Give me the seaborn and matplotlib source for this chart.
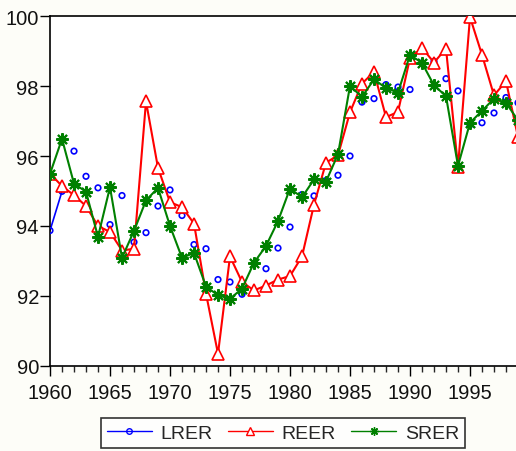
import numpy as np
import pandas as pd
import seaborn as sns
import matplotlib.pyplot as plt
import matplotlib.lines as mlines
from matplotlib.ticker import MultipleLocator

years = list(range(1960, 2000))

lrer = [93.87, 94.99, 96.14, 95.42, 95.09, 94.04, 94.87, 93.54, 93.81, 94.57,
        95.03, 94.30, 93.47, 93.35, 92.47, 92.40, 92.05, 92.13, 92.78, 93.37,
        93.97, 94.90, 94.86, 95.30, 95.45, 96.00, 97.54, 97.64, 98.04, 97.97,
        97.90, 98.66, 98.70, 98.21, 97.86, 96.89, 96.95, 97.23, 97.67, 97.52]

reer = [95.50, 95.14, 94.88, 94.57, 94.00, 93.83, 93.30, 93.35, 97.56, 95.66,
        94.68, 94.54, 94.07, 92.07, 90.35, 93.13, 92.40, 92.16, 92.30, 92.47,
        92.57, 93.13, 94.61, 95.81, 96.02, 97.25, 98.07, 98.40, 97.11, 97.26,
        98.80, 99.09, 98.67, 99.07, 95.69, 99.97, 98.89, 97.73, 98.14, 96.54]

srer = [95.49, 96.49, 95.21, 94.98, 93.69, 95.11, 93.09, 93.86, 94.73, 95.09,
        94.00, 93.09, 93.23, 92.27, 92.02, 91.92, 92.21, 92.95, 93.43, 94.14,
        95.07, 94.82, 95.33, 95.27, 96.05, 98.00, 97.69, 98.19, 97.94, 97.81,
        98.89, 98.66, 98.02, 97.71, 95.72, 96.95, 97.29, 97.64, 97.52, 97.02]

series_names = ['LRER', 'REER', 'SRER']
yticks = [90, 92, 94, 96, 98, 100]
xticks = [1960, 1965, 1970, 1975, 1980, 1985, 1990, 1995]

df = pd.DataFrame({'Year': years, 'LRER': lrer, 'REER': reer, 'SRER': srer})

sns.set_style('ticks')
plt.rcParams['font.family'] = ['Liberation Sans', 'DejaVu Sans']

fig = plt.figure(figsize=(5.16, 4.52), dpi=100, facecolor='#fdfdf8')
ax = fig.add_axes([50 / 516, 85 / 452, 468 / 516, 350 / 452])
ax.set_facecolor('white')

star = (8, 2, 0)

# LRER: only the first segment is joined, the rest are plain markers
sns.lineplot(data=df.iloc[:2], x='Year', y='LRER', color='#0000ff', lw=1.2, ax=ax)
sns.scatterplot(data=df, x='Year', y='LRER', marker='o', s=16, facecolors='none',
                edgecolor='#0000ff', linewidth=1.2, ax=ax, zorder=3)
sns.lineplot(data=df, x='Year', y='REER', color='#ff0000', lw=1.5, marker='^',
             markersize=8, markerfacecolor='white', markeredgecolor='#ff0000',
             markeredgewidth=1.2, ax=ax, zorder=4)
sns.lineplot(data=df, x='Year', y='SRER', color='#008000', lw=1.5, marker=star,
             markersize=9, markeredgecolor='#008000', markeredgewidth=1.5,
             ax=ax, zorder=5)

ax.set_xlim(1960, 1999)
ax.set_ylim(90, 100)
ax.set_xticks(xticks)
ax.xaxis.set_minor_locator(MultipleLocator(1))
ax.set_yticks(yticks)
ax.set_yticklabels([str(t) for t in yticks])
ax.tick_params(axis='both', which='major', direction='out', length=7, width=1,
               labelsize=14.5, color='black', labelcolor='#111111')
ax.tick_params(axis='x', which='minor', direction='out', length=4, width=1)
ax.tick_params(axis='x', pad=5)
ax.tick_params(axis='y', pad=1)
ax.set_xlabel('')
ax.set_ylabel('')
for sp in ax.spines.values():
    sp.set_linewidth(1.2)
    sp.set_color('black')

handles = [
    mlines.Line2D([], [], color='#0000ff', lw=1, marker='o', markersize=4,
                  markerfacecolor='none', label='LRER'),
    mlines.Line2D([], [], color='#ff0000', lw=1, marker='^', markersize=6,
                  markerfacecolor='white', label='REER'),
    mlines.Line2D([], [], color='#008000', lw=1, marker=star, markersize=6,
                  label='SRER'),
]
leg = fig.legend(handles=handles, loc='center', bbox_to_anchor=(283 / 516, 1 - 434 / 452),
                 ncol=3, fontsize=14, frameon=True, fancybox=False, edgecolor='black',
                 handlelength=2.3, columnspacing=0.8, handletextpad=0.45,
                 borderpad=0.3, borderaxespad=0)
leg.get_frame().set_linewidth(1.2)

fig.savefig('out.png', dpi=100, facecolor=fig.get_facecolor())
